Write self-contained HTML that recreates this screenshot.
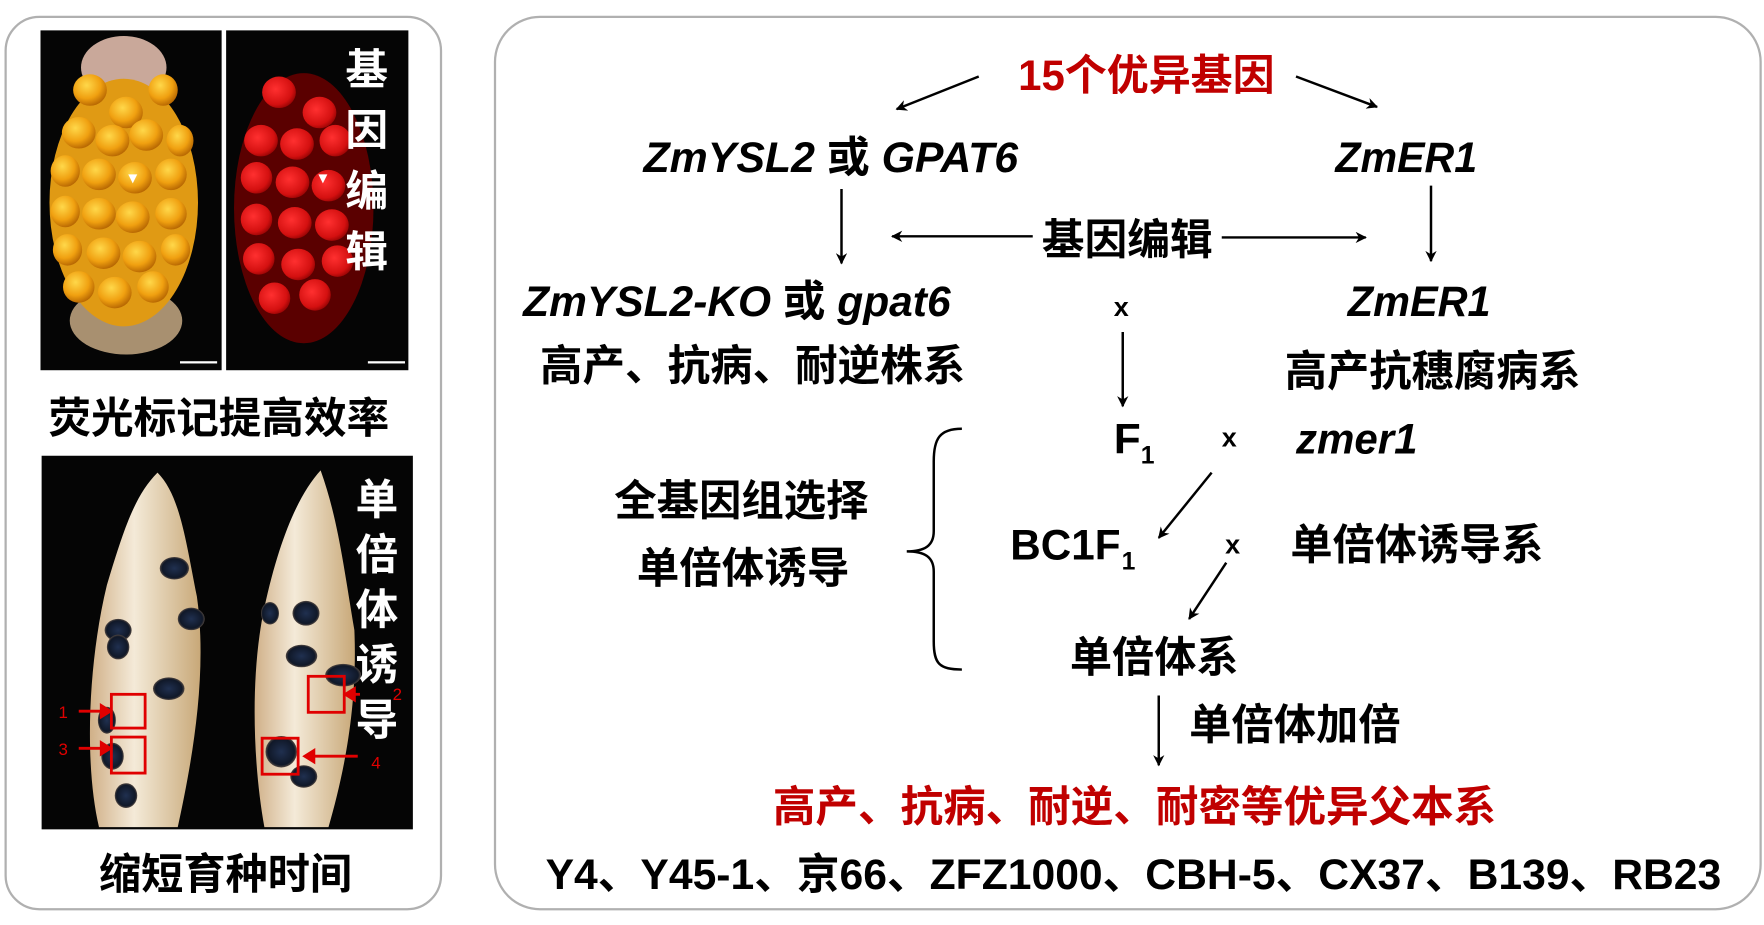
<!DOCTYPE html>
<html><head><meta charset="utf-8"><style>
html,body{margin:0;padding:0;background:#fff;width:1764px;height:925px;overflow:hidden}
text{font-family:"Liberation Sans","Noto Sans CJK SC",sans-serif;font-weight:bold}
</style></head><body>
<svg width="1764" height="925" viewBox="0 0 1568 822" preserveAspectRatio="none" xmlns="http://www.w3.org/2000/svg">
<defs>
<marker id="ah" markerWidth="10" markerHeight="10" refX="9" refY="5" orient="auto" markerUnits="userSpaceOnUse"><path d="M0,0 L10,5 L0,10 L3,5 Z" fill="#000"/></marker>
<radialGradient id="yk" cx="0.4" cy="0.35" r="0.7"><stop offset="0" stop-color="#ffd84a"/><stop offset="0.6" stop-color="#f0a010"/><stop offset="1" stop-color="#b06000"/></radialGradient>
<radialGradient id="rk" cx="0.4" cy="0.4" r="0.7"><stop offset="0" stop-color="#ff3030"/><stop offset="0.7" stop-color="#d41010"/><stop offset="1" stop-color="#800000"/></radialGradient>
<radialGradient id="dk" cx="0.5" cy="0.5" r="0.6"><stop offset="0" stop-color="#203050"/><stop offset="0.7" stop-color="#101828"/><stop offset="1" stop-color="#a08060"/></radialGradient>
<linearGradient id="pale" x1="0" y1="0" x2="1" y2="0"><stop offset="0" stop-color="#d0b088"/><stop offset="0.4" stop-color="#f4ead8"/><stop offset="1" stop-color="#c8a878"/></linearGradient>
</defs>
<rect x="5" y="15" width="387" height="793" rx="30" fill="#fff" stroke="#b0b0b0" stroke-width="2"/>
<rect x="440" y="15" width="1125" height="793" rx="40" fill="#fff" stroke="#b0b0b0" stroke-width="2"/>
<!-- top images -->
<rect x="36" y="27" width="161" height="302" fill="#050505"/>
<rect x="201" y="27" width="162" height="302" fill="#050505"/>
<ellipse cx="110" cy="60" rx="38" ry="28" fill="#c9a89a"/>
<ellipse cx="112" cy="285" rx="50" ry="30" fill="#a89070"/>
<ellipse cx="110" cy="180" rx="66" ry="110" fill="#e09a14"/>
<g fill="url(#yk)">
<ellipse cx="80" cy="80" rx="15" ry="14"/><ellipse cx="145" cy="80" rx="13" ry="14"/><ellipse cx="112" cy="100" rx="15" ry="14"/>
<ellipse cx="70" cy="118" rx="15" ry="14"/><ellipse cx="100" cy="125" rx="15" ry="14"/><ellipse cx="130" cy="120" rx="15" ry="14"/><ellipse cx="160" cy="125" rx="12" ry="14"/>
<ellipse cx="58" cy="152" rx="13" ry="14"/><ellipse cx="88" cy="155" rx="15" ry="14"/><ellipse cx="120" cy="158" rx="15" ry="14"/><ellipse cx="152" cy="155" rx="14" ry="14"/>
<ellipse cx="58" cy="188" rx="13" ry="14"/><ellipse cx="88" cy="190" rx="15" ry="14"/><ellipse cx="118" cy="193" rx="15" ry="14"/><ellipse cx="152" cy="190" rx="14" ry="14"/>
<ellipse cx="60" cy="222" rx="13" ry="14"/><ellipse cx="92" cy="225" rx="15" ry="14"/><ellipse cx="124" cy="228" rx="15" ry="14"/><ellipse cx="156" cy="222" rx="13" ry="14"/>
<ellipse cx="70" cy="255" rx="14" ry="14"/><ellipse cx="102" cy="260" rx="15" ry="14"/><ellipse cx="136" cy="255" rx="14" ry="14"/>
</g>
<rect x="160" y="321" width="33" height="2" fill="#fff"/>
<ellipse cx="270" cy="185" rx="62" ry="120" fill="#5a0000"/>
<g fill="url(#rk)">
<ellipse cx="248" cy="82" rx="15" ry="14"/><ellipse cx="284" cy="100" rx="15" ry="14"/>
<ellipse cx="232" cy="125" rx="15" ry="14"/><ellipse cx="264" cy="128" rx="15" ry="14"/><ellipse cx="298" cy="125" rx="14" ry="14"/>
<ellipse cx="228" cy="158" rx="14" ry="14"/><ellipse cx="260" cy="162" rx="15" ry="14"/><ellipse cx="292" cy="165" rx="15" ry="14"/>
<ellipse cx="228" cy="195" rx="14" ry="14"/><ellipse cx="262" cy="198" rx="15" ry="14"/><ellipse cx="295" cy="200" rx="15" ry="14"/>
<ellipse cx="230" cy="230" rx="14" ry="14"/><ellipse cx="265" cy="235" rx="15" ry="14"/><ellipse cx="300" cy="232" rx="14" ry="14"/>
<ellipse cx="244" cy="265" rx="14" ry="14"/><ellipse cx="280" cy="262" rx="14" ry="14"/>
</g>
<rect x="327" y="321" width="33" height="2" fill="#fff"/>
<path d="M114,155 l8,0 l-4,8z M283,155 l8,0 l-4,8z" fill="#fff"/>
<g fill="#fff" font-size="38" text-anchor="middle">
<text x="326" y="75">基</text><text x="326" y="129">因</text><text x="326" y="183">编</text><text x="326" y="237">辑</text>
</g>
<text x="43" y="385" font-size="38" textLength="303" lengthAdjust="spacingAndGlyphs" fill="#000">荧光标记提高效率</text>
<!-- bottom image -->
<rect x="37" y="405" width="330" height="332" fill="#050505"/>
<path d="M140,420 C160,440 165,480 175,530 C185,600 170,680 158,735 L88,735 C75,680 78,590 95,520 C110,470 120,440 140,420Z" fill="url(#pale)"/>
<path d="M285,418 C300,460 305,500 315,560 C318,630 305,690 292,735 L235,735 C225,680 222,600 235,540 C248,480 265,440 285,418Z" fill="url(#pale)"/>
<g fill="url(#dk)">
<ellipse cx="155" cy="505" rx="13" ry="10"/><ellipse cx="105" cy="560" rx="12" ry="10"/><ellipse cx="170" cy="550" rx="12" ry="10"/>
<ellipse cx="105" cy="575" rx="10" ry="11"/><ellipse cx="150" cy="612" rx="14" ry="10"/><ellipse cx="95" cy="640" rx="8" ry="12"/>
<ellipse cx="100" cy="672" rx="10" ry="12"/><ellipse cx="112" cy="707" rx="10" ry="11"/>
<ellipse cx="272" cy="545" rx="12" ry="11"/><ellipse cx="268" cy="583" rx="14" ry="10"/><ellipse cx="305" cy="600" rx="16" ry="10"/>
<ellipse cx="250" cy="668" rx="14" ry="14"/><ellipse cx="270" cy="690" rx="12" ry="10"/><ellipse cx="240" cy="545" rx="8" ry="10"/>
</g>
<g fill="none" stroke="#e00000" stroke-width="2.5">
<rect x="99" y="617" width="30" height="30"/><rect x="99" y="655" width="30" height="32"/>
<rect x="274" y="601" width="32" height="32"/><rect x="233" y="656" width="32" height="32"/>
</g>
<g stroke="#e00000" stroke-width="2.5" fill="#e00000">
<line x1="70" y1="632" x2="92" y2="632"/><path d="M98,632 l-8,-5 v10z"/>
<line x1="70" y1="665" x2="92" y2="665"/><path d="M98,665 l-8,-5 v10z"/>
<line x1="320" y1="617" x2="314" y2="617"/><path d="M307,617 l8,-5 v10z"/>
<line x1="280" y1="672" x2="318" y2="672"/><path d="M271,672 l8,-5 v10z"/>
</g>
<g fill="#e00000" font-size="15">
<text x="52" y="638" style="font-weight:normal">1</text><text x="52" y="671" style="font-weight:normal">3</text>
<text x="349" y="622" style="font-weight:normal">2</text><text x="330" y="683" style="font-weight:normal">4</text>
</g>
<g fill="#fff" font-size="38" text-anchor="middle">
<text x="335" y="457">单</text><text x="335" y="506">倍</text><text x="335" y="555">体</text><text x="335" y="604">诱</text><text x="335" y="653">导</text>
</g>
<text x="88" y="790" font-size="38" textLength="225" lengthAdjust="spacingAndGlyphs" fill="#000">缩短育种时间</text>
<!-- right diagram -->
<g fill="#000" font-size="38">
<text x="905" y="80" textLength="228" lengthAdjust="spacingAndGlyphs" fill="#c00000">15个优异基因</text>
<text x="572" y="153" font-style="italic" textLength="333" lengthAdjust="spacingAndGlyphs">ZmYSL2 <tspan font-style="normal">或</tspan> GPAT6</text>
<text x="1187" y="153" font-style="italic" textLength="126" lengthAdjust="spacingAndGlyphs">ZmER1</text>
<text x="926" y="226" textLength="152" lengthAdjust="spacingAndGlyphs">基因编辑</text>
<text x="465" y="281" font-style="italic" textLength="380" lengthAdjust="spacingAndGlyphs">ZmYSL2-KO <tspan font-style="normal">或</tspan> gpat6</text>
<text x="1198" y="281" font-style="italic" textLength="127" lengthAdjust="spacingAndGlyphs">ZmER1</text>
<text x="480" y="338" textLength="378" lengthAdjust="spacingAndGlyphs">高产、抗病、耐逆株系</text>
<text x="1142" y="343" textLength="263" lengthAdjust="spacingAndGlyphs">高产抗穗腐病系</text>
<text x="990" y="403" textLength="24" lengthAdjust="spacingAndGlyphs">F</text>
<text x="1014" y="412" font-size="22">1</text>
<text x="1152" y="403" font-style="italic" textLength="108" lengthAdjust="spacingAndGlyphs">zmer1</text>
<text x="546" y="458" textLength="226" lengthAdjust="spacingAndGlyphs">全基因组选择</text>
<text x="566" y="518" textLength="189" lengthAdjust="spacingAndGlyphs">单倍体诱导</text>
<text x="898" y="497" textLength="98" lengthAdjust="spacingAndGlyphs">BC1F</text>
<text x="997" y="506" font-size="22">1</text>
<text x="1147" y="497" textLength="225" lengthAdjust="spacingAndGlyphs">单倍体诱导系</text>
<text x="951" y="597" textLength="150" lengthAdjust="spacingAndGlyphs">单倍体系</text>
<text x="1057" y="657" textLength="188" lengthAdjust="spacingAndGlyphs">单倍体加倍</text>
<text x="687" y="730" fill="#c00000" textLength="643" lengthAdjust="spacingAndGlyphs">高产、抗病、耐逆、耐密等优异父本系</text>
<text x="485" y="790" textLength="1045" lengthAdjust="spacingAndGlyphs">Y4、Y45-1、京66、ZFZ1000、CBH-5、CX37、B139、RB23</text>
</g>
<g font-size="24" fill="#000">
<text x="990" y="281">x</text><text x="1086" y="397">x</text><text x="1089" y="492">x</text>
</g>
<g stroke="#000" stroke-width="2.2" fill="none" marker-end="url(#ah)">
<line x1="870" y1="68" x2="797" y2="97"/>
<line x1="1152" y1="68" x2="1224" y2="95"/>
<line x1="748" y1="168" x2="748" y2="234"/>
<line x1="1272" y1="165" x2="1272" y2="232"/>
<line x1="918" y1="210" x2="793" y2="210"/>
<line x1="1086" y1="211" x2="1214" y2="211"/>
<line x1="998" y1="295" x2="998" y2="361"/>
<line x1="1077" y1="420" x2="1030" y2="478"/>
<line x1="1090" y1="500" x2="1057" y2="550"/>
<line x1="1030" y1="618" x2="1030" y2="680"/>
</g>
<path d="M855,381 C835,381 830,390 830,410 L830,472 C830,485 822,490 806,490 C822,490 830,495 830,508 L830,570 C830,590 835,595 855,595" fill="none" stroke="#000" stroke-width="2.2"/>
</svg>
</body></html>
